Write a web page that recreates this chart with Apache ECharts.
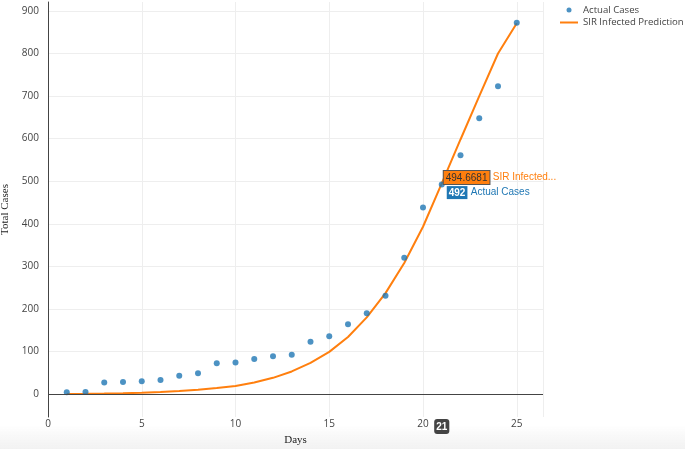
<!DOCTYPE html>
<html><head><meta charset="utf-8">
<script src="https://cdn.jsdelivr.net/npm/echarts@6/dist/echarts.min.js"></script>
<style>html,body{margin:0;padding:0;background:#fff}#c{width:685px;height:449px}</style>
</head><body><div id="c"></div>
<script>
var days = [1,2,3,4,5,6,7,8,9,10,11,12,13,14,15,16,17,18,19,20,21,22,23,24,25];
var actualCases = [4,5,27,28,30,33,43,49,72,74,82,89,92,123,136,164,190,231,320,438,492,561,648,723,872];
var sirPrediction = [0.3,0.6,1,1.7,2.8,4.5,7,10,14,19,27,38,53,73,99,134,180,237,308,393,494.6681,598,700,800,871];
var yTicks = [0,100,200,300,400,500,600,700,800,900];
var hoverIndex = 20;

var chart = echarts.init(document.getElementById('c'));
var actualData = days.map(function(d,i){return [d, actualCases[i]];});
var sirData = days.map(function(d,i){return [d, sirPrediction[i]];});
var axisFont = {color:'#444', fontSize:10, fontFamily:'Open Sans, sans-serif'};

chart.setOption({
  animation:false,
  graphic:[{type:'rect', left:0, bottom:0, shape:{width:685, height:24},
    style:{fill:new echarts.graphic.LinearGradient(0,0,0,1,[{offset:0,color:'rgba(240,240,240,0)'},{offset:1,color:'#f2f2f2'}])}, z:-10}],
  grid:{left:48, right:142, top:2, bottom:32, outerBoundsMode:'none', containLabel:false},
  legend:{
    orient:'vertical', left:560, top:5, padding:0, itemGap:2.5, itemWidth:18, itemHeight:5,
    textStyle:{color:'#444', fontSize:9.6, fontFamily:'Open Sans, sans-serif'},
    data:[{name:'Actual Cases', icon:'circle'},
          {name:'SIR Infected Prediction', icon:'path://M0,0 L18,0 L18,2 L0,2 Z'}]
  },
  xAxis:{
    type:'value', min:0, max:26.4, interval:5,
    name:'Days', nameLocation:'middle', nameGap:18,
    nameTextStyle:{color:'#222', fontSize:11, fontFamily:'Liberation Serif, serif'},
    axisLine:{show:false, onZero:false}, axisTick:{show:false},
    axisLabel:Object.assign({margin:2, showMaxLabel:false}, axisFont),
    splitLine:{show:true, lineStyle:{color:'#eee', width:1}},
    axisPointer:{show:true, value:21, status:'show', type:'line', lineStyle:{width:0, opacity:0},
      triggerTooltip:false,
      label:{show:true, backgroundColor:'#444', color:'#fff', fontSize:10, fontWeight:'bold', padding:[3,2,2,2], margin:2,
        fontFamily:'Liberation Sans, Arial, sans-serif',
        formatter:function(p){return Math.round(p.value);}}}
  },
  yAxis:{
    type:'value', min:-54, max:921,
    name:'Total Cases', nameLocation:'middle', nameGap:32,
    nameTextStyle:{color:'#222', fontSize:11, fontFamily:'Liberation Serif, serif'},
    axisLine:{show:true, onZero:false, lineStyle:{color:'#444', width:1}},
    axisTick:{show:false, customValues:yTicks},
    axisLabel:Object.assign({margin:9, customValues:yTicks}, axisFont),
    splitLine:{show:true, lineStyle:{color:'#eee', width:1}}
  },
  series:[
    {
      name:'Actual Cases', type:'scatter', data:actualData, symbolSize:6,
      itemStyle:{color:'#1f77b4'}, z:3,
      markPoint:{symbol:'circle', symbolSize:0, data:[{coord:actualData[hoverIndex], value:actualCases[hoverIndex]}],
        label:{show:true, position:'right', distance:5, offset:[0,8],
          formatter:function(p){return '{b|'+p.value+'} {n|Actual Cases}';},
          rich:{b:{backgroundColor:'#1f77b4', color:'#fff', fontSize:10, fontWeight:'bold', padding:[2,2,1,2], fontFamily:'Liberation Sans, Arial, sans-serif'},
                n:{color:'#1f77b4', fontSize:10, fontFamily:'Liberation Sans, Arial, sans-serif'}}}}
    },
    {
      name:'SIR Infected Prediction', type:'line', data:sirData, symbol:'none', smooth:false,
      lineStyle:{color:'#ff7f0e', width:2}, itemStyle:{color:'#ff7f0e'}, z:2,
      markLine:{silent:true, symbol:'none', label:{show:false}, lineStyle:{color:'#444', width:1, type:'solid'},
        data:[{yAxis:0}]},
      markPoint:{symbol:'circle', symbolSize:0, data:[{coord:sirData[hoverIndex], value:sirPrediction[hoverIndex]}],
        label:{show:true, position:'right', distance:2, offset:[0,-6],
          formatter:function(p){return '{b|'+p.value+'} {n|SIR Infected...}';},
          rich:{b:{backgroundColor:'#ff7f0e', borderColor:'#555', borderWidth:1, color:'#333', fontSize:10, padding:[2,2,1,2], fontFamily:'Liberation Sans, Arial, sans-serif'},
                n:{color:'#ff7f0e', fontSize:10, fontFamily:'Liberation Sans, Arial, sans-serif'}}}}
    }
  ]
});
</script></body></html>
